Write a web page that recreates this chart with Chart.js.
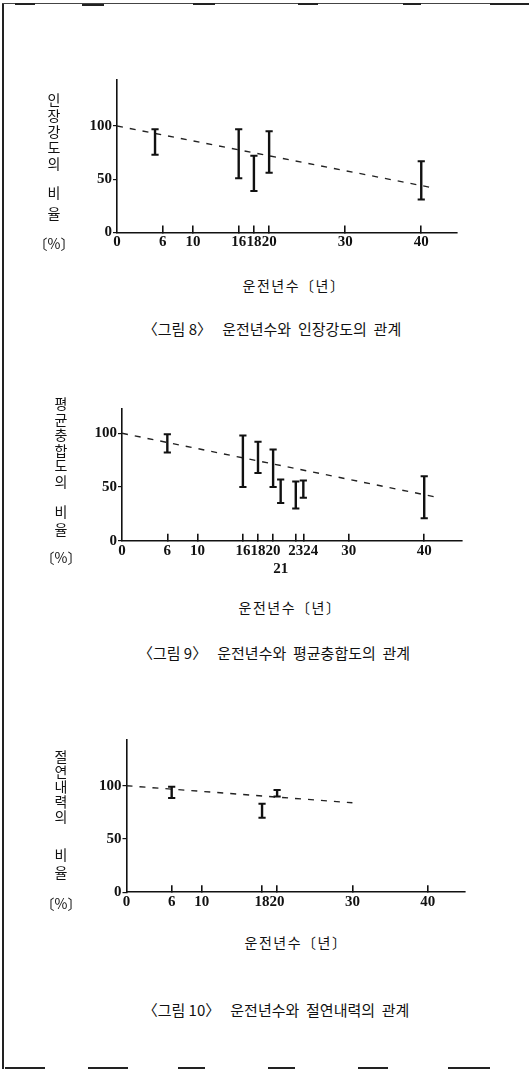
<!DOCTYPE html>
<html>
<head>
<meta charset="utf-8">
<script src="https://cdn.jsdelivr.net/npm/chart.js@4/dist/chart.umd.min.js"></script>
<style>
  html, body { margin: 0; padding: 0; background: #fff; }
  body { width: 529px; height: 1071px; position: relative; overflow: hidden;
         font-family: "Noto Sans CJK KR", "Noto Sans", sans-serif; color: #111; }
  .rule { position: absolute; background: #222; }
  canvas { position: absolute; left: 0; }
  .ylab { position: absolute; writing-mode: vertical-rl; text-orientation: upright;
          font-size: 14px; line-height: 16px; white-space: nowrap; }
  .unit { position: absolute; font-size: 14px; line-height: 16px; white-space: nowrap;
          transform: translateX(-50%); }
  .xtitle { position: absolute; font-size: 14px; line-height: 16px; letter-spacing: 1.5px;
            white-space: nowrap; transform: translateX(-50%); }
  .caption { position: absolute; font-size: 15px; line-height: 18px; white-space: pre;
             transform: translateX(-50%); }
</style>
</head>
<body>
<!-- page frame -->
<div class="rule" style="left:2px;top:3px;width:2px;height:1066px;"></div>
<div class="rule" style="left:2px;top:3px;width:527px;height:1px;background:#444;"></div>
<div class="rule" style="left:15px;top:3px;width:20px;height:2px;"></div>
<div class="rule" style="left:82px;top:4px;width:22px;height:2px;"></div>
<div class="rule" style="left:193px;top:3px;width:22px;height:2px;"></div>
<div class="rule" style="left:298px;top:3px;width:20px;height:2px;"></div>
<div class="rule" style="left:403px;top:3px;width:18px;height:2px;"></div>
<div class="rule" style="left:490px;top:3px;width:39px;height:2px;"></div>
<div class="rule" style="left:5px;top:1067px;width:40px;height:2px;"></div>
<div class="rule" style="left:88px;top:1067px;width:40px;height:2px;"></div>
<div class="rule" style="left:178px;top:1067px;width:27px;height:2px;"></div>
<div class="rule" style="left:268px;top:1067px;width:27px;height:2px;"></div>
<div class="rule" style="left:358px;top:1067px;width:30px;height:2px;"></div>
<div class="rule" style="left:448px;top:1067px;width:42px;height:2px;"></div>

<!-- 그림 8 -->
<canvas id="fig8" width="529" height="210" style="top:60px"></canvas>
<div class="ylab" style="left:46px;top:93px;letter-spacing:2px;">인장강도의</div>
<div class="ylab" style="left:46px;top:186px;letter-spacing:7px;">비율</div>
<div class="unit" style="left:54px;top:235px;">〔%〕</div>
<div class="xtitle" style="left:294px;top:277px;">운전년수〔년〕</div>
<div class="caption" style="left:272px;top:320px;">〈그림 8〉   운전년수와  인장강도의  관계</div>

<!-- 그림 9 -->
<canvas id="fig9" width="529" height="200" style="top:390px"></canvas>
<div class="ylab" style="left:53px;top:397px;letter-spacing:1.5px;">평균충합도의</div>
<div class="ylab" style="left:53px;top:505px;letter-spacing:4px;">비율</div>
<div class="unit" style="left:61px;top:549px;">〔%〕</div>
<div class="xtitle" style="left:290px;top:599px;">운전년수〔년〕</div>
<div class="caption" style="left:274px;top:644px;">〈그림 9〉   운전년수와  평균충합도의  관계</div>

<!-- 그림 10 -->
<canvas id="fig10" width="529" height="200" style="top:720px"></canvas>
<div class="ylab" style="left:53px;top:750px;letter-spacing:1px;">절연내력의</div>
<div class="ylab" style="left:53px;top:848px;letter-spacing:4px;">비율</div>
<div class="unit" style="left:61px;top:895px;">〔%〕</div>
<div class="xtitle" style="left:296px;top:934px;">운전년수〔년〕</div>
<div class="caption" style="left:276px;top:1001px;">〈그림 10〉   운전년수와  절연내력의  관계</div>

<script>
// 그림 8: 운전년수와 인장강도의 관계
const yearsFig8 = [5, 16, 18, 20, 40];
const lowFig8 = [73, 51, 39, 56, 31];
const highFig8 = [97, 97, 72, 95, 67];
const trendYearsFig8 = [0, 41.5];
const trendFig8 = [100, 42];
const tickYearsFig8 = [0, 6, 10, 16, 18, 20, 30, 40];
const tickLabelsFig8 = ['0', '6', '10', '16', '18', '20', '30', '40'];

// 그림 9: 운전년수와 평균충합도의 관계
const yearsFig9 = [6, 16, 18, 20, 21, 23, 24, 40];
const lowFig9 = [82, 50, 63, 50, 35, 30, 40, 21];
const highFig9 = [99, 98, 92, 85, 57, 55, 56, 60];
const trendYearsFig9 = [0, 42];
const trendFig9 = [100, 40];
const tickYearsFig9 = [0, 6, 10, 16, 18, 20, 21, 23, 24, 30, 40];
// "21" sits on a second row; "24" is nudged right so it does not run into "23"
const tickLabelsFig9 = ['0', '6', '10', '16', '18', '20', ['', '21'], '23', '\u2002\u200224', '30', '40'];

// 그림 10: 운전년수와 절연내력의 관계
const yearsFig10 = [6, 18, 20];
const lowFig10 = [88.5, 70, 90];
const highFig10 = [99, 83, 96];
const trendYearsFig10 = [0, 30];
const trendFig10 = [100, 84];
const tickYearsFig10 = [0, 6, 10, 18, 20, 30, 40];
const tickLabelsFig10 = ['0', '6', '10', '18', '20', '30', '40'];

const valueTicks = [0, 50, 100];

const serif = { family: '"Liberation Serif", "DejaVu Serif", serif', size: 15, weight: 'bold' };

// g: canvas top/height, y-axis x, plot right, plot top, plot bottom (page pixels)
function drawFigure(id, g, years, lows, highs, trendX, trendY, tickYears, tickLabels, xMax, yMax) {
  const bars = [];
  years.forEach((x, i) => {
    bars.push({ x: x, y: lows[i] }, { x: x, y: highs[i] }, { x: x, y: null });
  });
  const trend = trendX.map((x, i) => ({ x: x, y: trendY[i] }));

  new Chart(document.getElementById(id), {
    type: 'line',
    data: {
      datasets: [
        { data: bars, borderColor: '#111', borderWidth: 2.4, spanGaps: false, tension: 0,
          pointStyle: 'line', pointRadius: 3.6, pointBorderWidth: 2, pointBorderColor: '#111',
          pointBackgroundColor: '#111' },
        { data: trend, borderColor: '#222', borderWidth: 1.4, borderDash: [6, 7],
          pointRadius: 0, tension: 0 }
      ]
    },
    options: {
      responsive: false, animation: false, devicePixelRatio: 1,
      layout: { padding: { left: 0, right: 529 - g.right, top: g.plotTop - g.top, bottom: 0 } },
      plugins: { legend: { display: false }, tooltip: { enabled: false } },
      scales: {
        x: {
          type: 'linear', min: 0, max: xMax,
          afterBuildTicks(s) { s.ticks = tickYears.map(v => ({ value: v })); },
          afterFit(s) { s.height = g.top + g.h - g.plotBottom; },
          // negative tick length: short marks point up into the plot
          grid: {
            display: true, drawOnChartArea: false, drawTicks: true, tickLength: -7, lineWidth: 1.6,
            color: c => (c.index === 0 || Array.isArray(tickLabels[c.index])) ? 'rgba(0,0,0,0)' : '#111'
          },
          border: { color: '#111', width: 1.6 },
          ticks: { autoSkip: false, maxRotation: 0, minRotation: 0, padding: 8, color: '#111',
                   font: serif, callback: (v, i) => tickLabels[i] }
        },
        y: {
          type: 'linear', min: 0, max: yMax,
          afterBuildTicks(s) { s.ticks = valueTicks.map(v => ({ value: v })); },
          afterFit(s) { s.width = g.axis; },
          grid: { drawOnChartArea: false, drawTicks: true, tickLength: 4, color: '#111', lineWidth: 1.2 },
          border: { color: '#111', width: 1.6 },
          ticks: { padding: 1, color: '#111', font: serif }
        }
      }
    }
  });
}

drawFigure('fig8', { top: 60, h: 210, axis: 117, right: 457, plotTop: 80, plotBottom: 232.5 },
  yearsFig8, lowFig8, highFig8, trendYearsFig8, trendFig8, tickYearsFig8, tickLabelsFig8, 44.7, 143.2);
drawFigure('fig9', { top: 390, h: 200, axis: 122, right: 462, plotTop: 409, plotBottom: 540.7 },
  yearsFig9, lowFig9, highFig9, trendYearsFig9, trendFig9, tickYearsFig9, tickLabelsFig9, 45, 122.6);
drawFigure('fig10', { top: 720, h: 200, axis: 126.5, right: 465, plotTop: 740, plotBottom: 892.3 },
  yearsFig10, lowFig10, highFig10, trendYearsFig10, trendFig10, tickYearsFig10, tickLabelsFig10, 44.95, 142.9);
</script>
</body>
</html>
